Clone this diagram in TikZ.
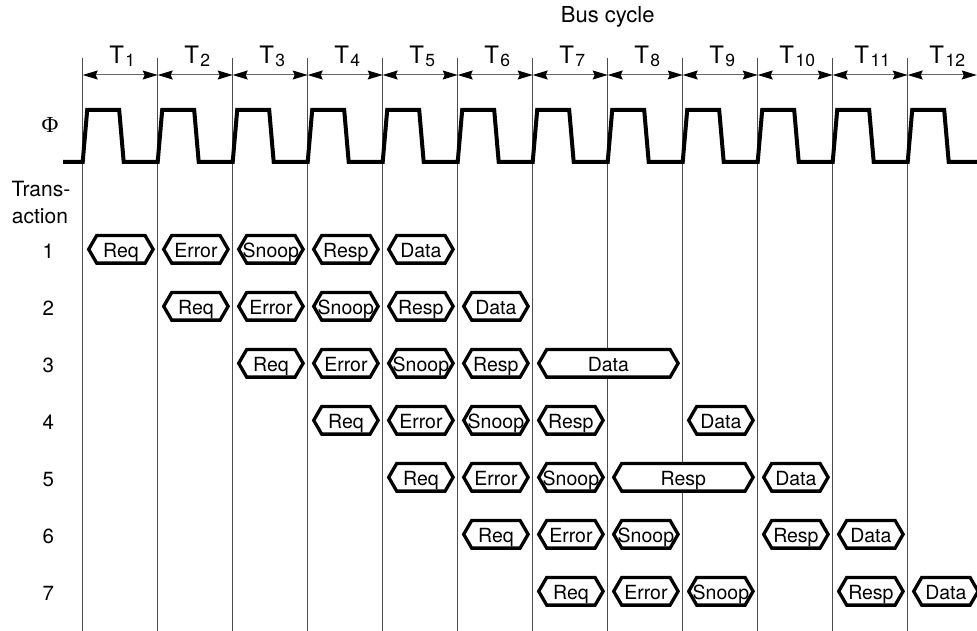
\documentclass[tikz,border=0pt]{standalone}
\usepackage{fontspec}
\setmainfont{TeX Gyre Heros}
\newfontfamily\phifont{Liberation Serif}
\usetikzlibrary{arrows.meta}
\newcommand\hexbox[5]{%
  \pgfmathsetmacro\hxl{82.7+75*(#3-1)+6}%
  \pgfmathsetmacro\hxr{82.7+75*(#3+#4-1)-4.6}%
  \pgfmathsetmacro\hxc{249.3+57*(#2-1)}%
  \draw[hexb] (\hxl,\hxc) -- (\hxl+8,\hxc-13.8) -- (\hxr-8,\hxc-13.8) -- (\hxr,\hxc)
     -- (\hxr-8,\hxc+13.8) -- (\hxl+8,\hxc+13.8) -- cycle;
  \node[boxtxt] (#1) at ({(\hxl+\hxr)/2},\hxc+8.3) {#5};%
}
\begin{document}
\begin{tikzpicture}[x=1pt,y=-1pt,
  vline/.style={draw=black!70, line width=1.1pt},
  clk/.style={draw=black, line width=4pt, line join=miter},
  spanarrow/.style={draw=black!60, line width=1pt,
     {Stealth[length=15pt,width=9pt,inset=2pt,black]}-{Stealth[length=15pt,width=9pt,inset=2pt,black]}},
  hexb/.style={draw=black, line width=3.3pt, fill=white, line join=miter},
  boxtxt/.style={font=\fontsize{19.5}{19.5}\selectfont, anchor=base, inner sep=0pt},
  lbl/.style={font=\fontsize{20.5}{20.5}\selectfont, anchor=base, inner sep=0pt},
  tlbl/.style={font=\fontsize{24}{24}\selectfont, anchor=base, inner sep=0pt},
]
\useasboundingbox (0,0) rectangle (977,631);

% coordinates of cycle boundaries
\foreach \k in {1,...,12}{
  \coordinate (top\k) at ({82.7+75*(\k-1)},58);
  \coordinate (bot\k) at ({82.7+75*(\k-1)},631);
  \coordinate (arr\k) at ({82.7+75*(\k-1)},75);
}
\coordinate (arr13) at (976.8,75);

% vertical lines
\foreach \k in {1,...,12}{
  \draw[vline] (top\k) -- (bot\k);
}

% cycle arrows
\foreach \k [evaluate=\k as \n using int(\k+1)] in {1,...,12}{
  \draw[spanarrow] (arr\k) -- (arr\n);
}

% cycle labels
\foreach \k in {1,...,12}{
  \node[tlbl] (T\k) at ({82.7+75*(\k-1)+39.5},64) {T\kern1.5pt\raisebox{-2.5pt}{\fontsize{17.5}{17.5}\selectfont\k}};
}

\node[lbl, font=\fontsize{22}{22}\selectfont] (bus) at (607.7,23) {Bus cycle};

% clock
\node[inner sep=0pt] (phi) at (50,125) {\phifont\fontsize{23}{23}\selectfont Φ};
\draw[clk] (63,162) foreach \k in {1,...,12}{
   -- ({82.7+75*(\k-1)},162) -- ({82.7+75*(\k-1)+4.5},110)
   -- ({82.7+75*(\k-1)+36.5},110) -- ({82.7+75*(\k-1)+41},162) } -- (977,162);

% transaction labels
\node[lbl, font=\fontsize{21}{21}\selectfont] (trans) at (41,197) {Trans-};
\node[lbl, font=\fontsize{21}{21}\selectfont] (action) at (40,223) {action};
\foreach \r in {1,...,7}{
  \node[lbl] (row\r) at (48.3,{249.3+57*(\r-1)+9.5}) {\r};
}

% transactions
\hexbox{a1}{1}{1}{1}{Req}
\hexbox{a2}{1}{2}{1}{Error}
\hexbox{a3}{1}{3}{1}{Snoop}
\hexbox{a4}{1}{4}{1}{Resp}
\hexbox{a5}{1}{5}{1}{Data}

\hexbox{b1}{2}{2}{1}{Req}
\hexbox{b2}{2}{3}{1}{Error}
\hexbox{b3}{2}{4}{1}{Snoop}
\hexbox{b4}{2}{5}{1}{Resp}
\hexbox{b5}{2}{6}{1}{Data}

\hexbox{c1}{3}{3}{1}{Req}
\hexbox{c2}{3}{4}{1}{Error}
\hexbox{c3}{3}{5}{1}{Snoop}
\hexbox{c4}{3}{6}{1}{Resp}
\hexbox{c5}{3}{7}{2}{Data}

\hexbox{d1}{4}{4}{1}{Req}
\hexbox{d2}{4}{5}{1}{Error}
\hexbox{d3}{4}{6}{1}{Snoop}
\hexbox{d4}{4}{7}{1}{Resp}
\hexbox{d5}{4}{9}{1}{Data}

\hexbox{e1}{5}{5}{1}{Req}
\hexbox{e2}{5}{6}{1}{Error}
\hexbox{e3}{5}{7}{1}{Snoop}
\hexbox{e4}{5}{8}{2}{Resp}
\hexbox{e5}{5}{10}{1}{Data}

\hexbox{f1}{6}{6}{1}{Req}
\hexbox{f2}{6}{7}{1}{Error}
\hexbox{f3}{6}{8}{1}{Snoop}
\hexbox{f4}{6}{10}{1}{Resp}
\hexbox{f5}{6}{11}{1}{Data}

\hexbox{g1}{7}{7}{1}{Req}
\hexbox{g2}{7}{8}{1}{Error}
\hexbox{g3}{7}{9}{1}{Snoop}
\hexbox{g4}{7}{11}{1}{Resp}
\hexbox{g5}{7}{12}{1}{Data}
\end{tikzpicture}
\end{document}
